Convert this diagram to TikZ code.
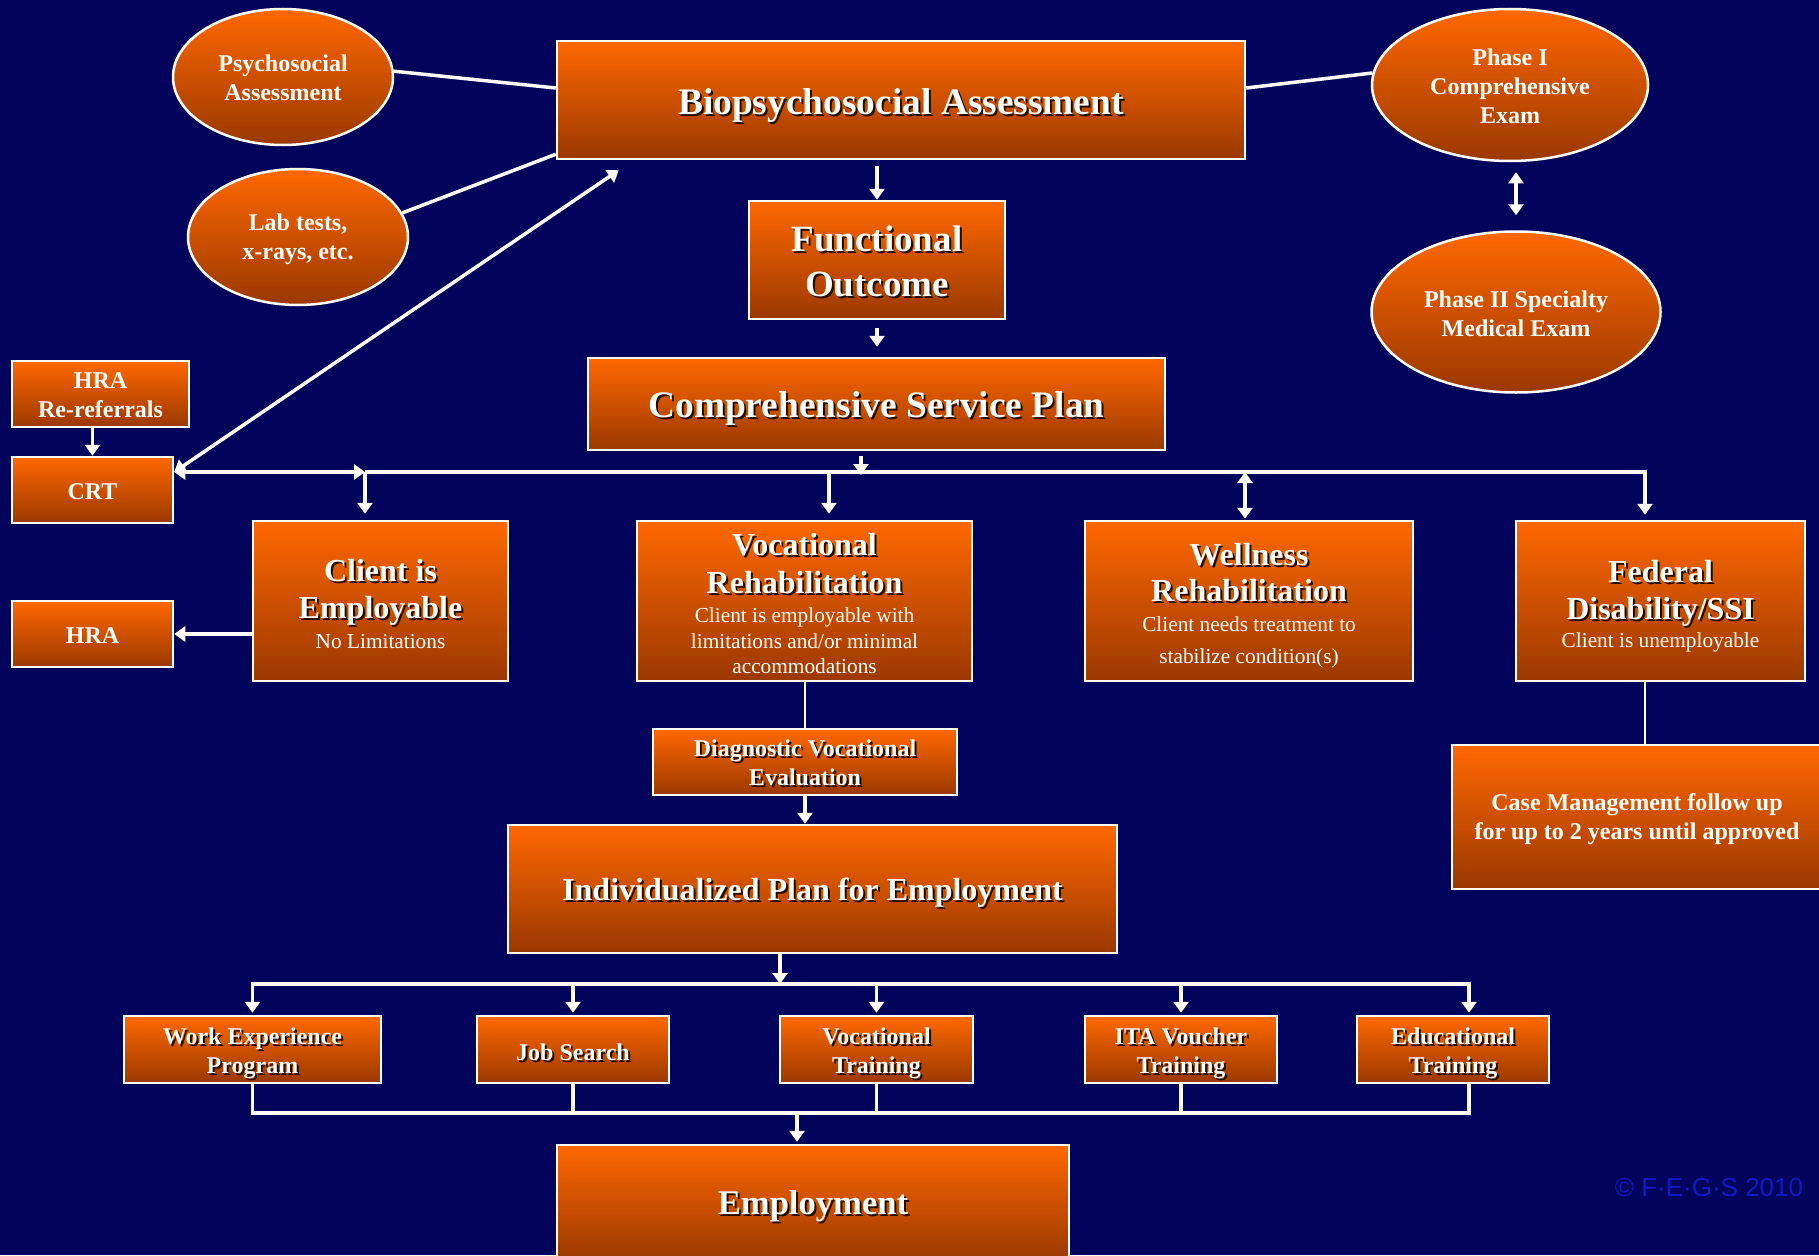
\documentclass[tikz,border=0pt]{standalone}
\usepackage{fontspec}
\setmainfont{Liberation Serif}
\newfontfamily\copyfont{Liberation Sans}
\usetikzlibrary{shapes.geometric,arrows.meta,calc}
\definecolor{navy}{RGB}{2,4,92}
\definecolor{otop}{RGB}{255,104,0}
\definecolor{obot}{RGB}{154,56,0}
\definecolor{shadowc}{RGB}{35,12,0}
\definecolor{copyblue}{RGB}{20,24,196}
% text with a small dark drop shadow
\newcommand\shd[1]{\leavevmode\rlap{\kern2pt\raisebox{-2pt}{\color{shadowc}#1}}#1}
% lower a line of text without changing its measured size
\newcommand\lw[2]{\raisebox{-#1}[\height][\depth]{#2}}
\newcommand\fsz[2]{\fontsize{#1}{#2}\selectfont}
\newcommand\subt{\fsz{21.3}{25}\mdseries}
\begin{document}
\begin{tikzpicture}[x=1pt,y=-1pt,
  obox/.style={rectangle, draw=white, line width=2.5pt, top color=otop, bottom color=obot,
               text=white, align=center, inner sep=0pt},
  oell/.style={obox, ellipse},
  wire/.style={draw=white, line width=3.5pt, line join=miter},
  slim/.style={draw=white, line width=2.5pt},
  arr/.style={wire, -{Triangle[length=11pt,width=15pt]}},
  darr/.style={wire, {Triangle[length=11pt,width=15pt]}-{Triangle[length=11pt,width=15pt]}},
  head/.style={font=\fsz{32}{38.4}\bfseries},
  small/.style={font=\fsz{24}{29}\bfseries},
]
\useasboundingbox (0,0) rectangle (1819,1255);
\fill[navy] (0,0) rectangle (1819,1255);
\clip (0,0) rectangle (1819,1255);

% ---- assessment stage ----
\node[obox, minimum width=688pt, minimum height=118pt, font=\fsz{37.4}{44}\bfseries] (bio) at (901,100) {\lw{7pt}{\shd{Biopsychosocial Assessment}}};
\node[oell, small, minimum width=220pt, minimum height=136pt] (psy) at (283,77) {\lw{1pt}{Psychosocial}\\\lw{1pt}{Assessment}};
\node[oell, small, minimum width=220pt, minimum height=136pt] (lab) at (298,237) {\lw{2pt}{Lab tests,}\\\lw{2pt}{x-rays, etc.}};
\node[oell, small, minimum width=276pt, minimum height=152pt] (ph1) at (1510,85) {\lw{1pt}{Phase I}\\\lw{1pt}{Comprehensive}\\\lw{1pt}{Exam}};
\node[oell, small, minimum width=289pt, minimum height=161pt] (ph2) at (1516,312) {\lw{2pt}{Phase II Specialty}\\\lw{2pt}{Medical Exam}};
\node[obox, minimum width=256pt, minimum height=118pt, font=\fsz{37}{45}\bfseries] (func) at (877,260) {\lw{2.5pt}{\shd{Functional}}\\\lw{2.5pt}{\shd{Outcome}}};
\node[obox, minimum width=577pt, minimum height=92pt, font=\fsz{37.4}{44}\bfseries] (csp) at (876.5,404) {\lw{6pt}{\shd{Comprehensive Service Plan}}};

% ---- referral boxes ----
\node[obox, small, minimum width=177pt, minimum height=66pt] (hrar) at (100.5,394) {\lw{1pt}{HRA}\\\lw{1pt}{Re-referrals}};
\node[obox, small, minimum width=161pt, minimum height=66pt] (crt) at (92.5,490) {\lw{2pt}{CRT}};
\node[obox, small, minimum width=161pt, minimum height=66pt] (hra) at (92.5,634) {\lw{2pt}{HRA}};

% ---- service tracks ----
\node[obox, head, minimum width=255pt, minimum height=160pt] (client) at (380.5,601)
  {\lw{4.5pt}{\shd{Client is}}\\\lw{3.5pt}{\shd{Employable}}\\[-6.4pt]\lw{1pt}{\subt No Limitations}};
\node[obox, head, minimum width=335pt, minimum height=160pt] (voc) at (804.5,601)
  {\lw{4.6pt}{\shd{Vocational}}\\\lw{4.6pt}{\shd{Rehabilitation}}\\[-5.4pt]{\subt Client is employable with}\\[-13pt]\lw{1pt}{\subt limitations and/or minimal}\\[-12.5pt]{\subt accommodations}};
\node[obox, head, minimum width=328pt, minimum height=160pt] (well) at (1249,601)
  {\lw{7pt}{\shd{Wellness}}\\\lw{4.6pt}{\shd{Rehabilitation}}\\[-6pt]\lw{2.3pt}{\subt Client needs treatment to}\\[-7pt]\lw{2.3pt}{\subt stabilize condition(s)}};
\node[obox, head, minimum width=289pt, minimum height=160pt] (fed) at (1660.5,601)
  {\lw{8pt}{\shd{Federal}}\\\lw{7pt}{\shd{Disability/SSI}}\\[-6pt]\lw{2.3pt}{\subt Client is unemployable}};

\node[obox, small, minimum width=304pt, minimum height=66pt] (dve) at (805,762) {\lw{2.3pt}{\shd{Diagnostic Vocational}}\\\lw{2.3pt}{\shd{Evaluation}}};
\node[obox, font=\fsz{24}{29}\bfseries, minimum width=370pt, minimum height=144pt] (casemgmt) at (1637,817) {\lw{2.3pt}{Case Management follow up}\\\lw{2.3pt}{for up to 2 years until approved}};
\node[obox, head, minimum width=609pt, minimum height=128pt] (ipe) at (812.5,889) {\lw{4.6pt}{\shd{Individualized Plan for Employment}}};

% ---- employment services ----
\node[obox, small, minimum width=257pt, minimum height=67pt] (wep) at (252.5,1049.5) {\lw{4.6pt}{\shd{Work Experience}}\\\lw{4.6pt}{\shd{Program}}};
\node[obox, small, minimum width=192pt, minimum height=67pt] (job) at (573,1049.5) {\lw{3.5pt}{\shd{Job Search}}};
\node[obox, small, minimum width=193pt, minimum height=67pt] (vt) at (876.5,1049.5) {\lw{4.6pt}{\shd{Vocational}}\\\lw{4.6pt}{\shd{Training}}};
\node[obox, small, minimum width=192pt, minimum height=67pt] (ita) at (1181,1049.5) {\lw{4.6pt}{\shd{ITA Voucher}}\\\lw{4.6pt}{\shd{Training}}};
\node[obox, small, minimum width=192pt, minimum height=67pt] (edu) at (1453,1049.5) {\lw{4.6pt}{\shd{Educational}}\\\lw{4.6pt}{\shd{Training}}};
\node[obox, minimum width=512pt, minimum height=116pt, font=\fsz{34.6}{40}\bfseries] (emp) at (813,1203) {\lw{4.6pt}{\shd{Employment}}};

\node[text=copyblue, font=\copyfont\fsz{26}{30}] (copy) at (1709,1188) {© F·E·G·S 2010};

% ---- connectors: assessment ----
\draw[wire] (psy.3) -- ([yshift=12pt]bio.west);
\draw[wire] (lab.13) -- ([yshift=6pt]bio.south west);
\draw[wire] ([yshift=12pt]bio.east) -- (ph1.175);
\draw[arr] ([yshift=-6pt]bio.south -| func.north) -- (func.north);
\draw[arr] ([yshift=-8pt]func.south) -- ([yshift=10pt]csp.north -| func.south);
\draw[darr] ([yshift=-10pt]ph1.south -| ph2.north) -- ([yshift=15pt]ph2.north);

% ---- connectors: referrals ----
\draw[arr] (hrar.south -| crt.north) -- (crt.north);
\coordinate (crtport) at ([yshift=18pt]crt.east);
\coordinate (bioin) at ([xshift=63pt,yshift=-10pt]bio.south west);
\draw[darr] (crtport) -- (bioin);

% ---- distribution bus below the service plan ----
\coordinate (jl) at (365,472);
\coordinate (jc) at (861,472);
\coordinate (jv) at (829,472);
\coordinate (jw) at (1245,472);
\coordinate (jf) at (1645,472);
\draw[darr] (crtport) -- (jl);
\draw[arr] (jl) -- (jf) -- ([yshift=5pt]jf |- fed.north);
\draw[arr] (jl) -- ([yshift=6pt]jl |- client.north);
\draw[arr] (jv) -- ([yshift=6pt]jv |- voc.north);
\draw[darr] (jw) -- ([yshift=1pt]jw |- well.north);
\draw[arr] ([yshift=-5pt]csp.south -| jc) -- ([yshift=-3pt]jc);

\draw[arr] (hra.east -| client.west) -- (hra.east);
\draw[slim] (voc.south -| dve.north) -- (dve.north);
\draw[arr] (dve.south) -- (dve.south |- ipe.north);
\draw[slim] (fed.south -| jf) -- (casemgmt.north -| jf);

% ---- bus to employment services ----
\coordinate (kb) at (780,984);
\coordinate (ke) at (1469,984);
\draw[arr] (ipe.south -| kb) -- (kb);
\draw[arr] (kb) -| ([yshift=2pt]wep.north);
\draw[arr] (kb) -| ([yshift=2pt]ke |- edu.north);
\draw[arr] (job.north |- kb) -- ([yshift=2pt]job.north);
\draw[arr] (vt.north |- kb) -- ([yshift=2pt]vt.north);
\draw[arr] (ita.north |- kb) -- ([yshift=2pt]ita.north);

% ---- collecting bus to employment ----
\coordinate (mb) at (797,1113);
\draw[wire] (wep.south) |- (ke |- mb) -- (ke |- edu.south);
\draw[wire] (job.south) -- (job.south |- mb);
\draw[wire] (vt.south) -- (vt.south |- mb);
\draw[wire] (ita.south) -- (ita.south |- mb);
\draw[arr] (mb) -- ([yshift=2pt]emp.north -| mb);
\end{tikzpicture}
\end{document}
